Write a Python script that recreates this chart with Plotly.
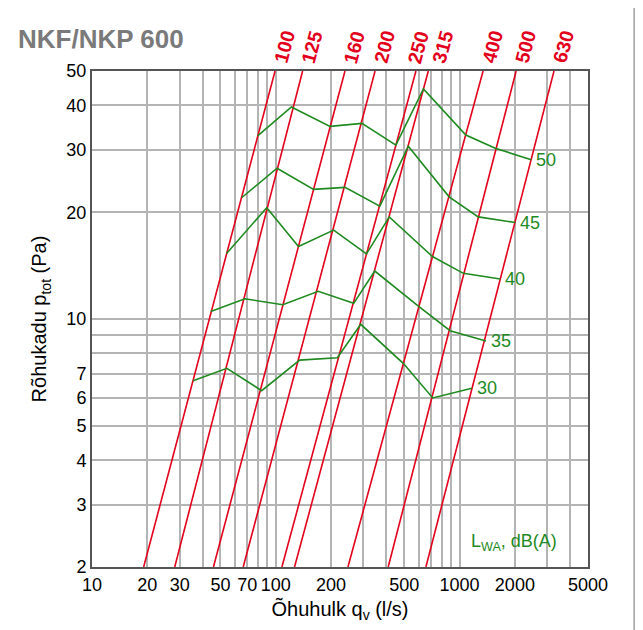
import math
import plotly.graph_objects as go

# ---------------- data ----------------
damper_sizes = ["100", "125", "160", "200", "250", "315", "400", "500", "630"]
q_at_50pa = [99.1, 140, 238, 347, 579, 676, 1343, 2032, 3266]   # l/s where each size line meets 50 Pa
q_at_2pa = [19.1, 28.2, 45.8, 66.5, 108, 126.5, 247, 409, 656]  # l/s where each size line meets 2 Pa
p_top, p_bottom = 50, 2

lw_levels = ["50", "45", "40", "35", "30"]
q_lw50 = [79.7, 121.7, 197.3, 294.3, 450.4, 635.9, 1082, 1565, 2453]
p_lw50 = [32.8, 39.6, 34.9, 35.6, 30.9, 44.5, 33.0, 30.3, 28.1]
q_lw45 = [65.4, 101.6, 160.6, 238.2, 368.3, 526.3, 877.5, 1264, 2013]
p_lw45 = [22.0, 26.6, 23.2, 23.5, 20.8, 30.7, 22.1, 19.4, 18.7]
q_lw40 = [54.0, 89.3, 132.9, 206.5, 311.5, 414.5, 712, 1049, 1667]
p_lw40 = [15.3, 20.6, 16.0, 17.8, 15.25, 19.4, 15.0, 13.45, 12.97]
q_lw35 = [44.3, 67.9, 109.2, 170.2, 265.5, 345.7, 601.5, 888.5, 1392]
p_lw35 = [10.5, 11.4, 10.97, 11.97, 11.07, 13.65, 10.83, 9.27, 8.67]
q_lw30 = [35.5, 54.2, 83.8, 134.9, 216.3, 290, 494, 714.8, 1167]
p_lw30 = [6.70, 7.26, 6.28, 7.66, 7.78, 9.66, 7.50, 5.99, 6.38]

x_tick_vals = [10, 20, 30, 50, 70, 100, 200, 500, 1000, 2000, 5000]
x_tick_text = ["10", "20", "30", "50", "70", "100", "200", "500", "1000", "2000", "5000"]
x_grid_vals = [10, 20, 30, 40, 50, 60, 70, 80, 90, 100, 200, 300, 400, 500, 600, 700, 800, 900,
               1000, 2000, 3000, 4000, 5000]
y_tick_vals = [2, 3, 4, 5, 6, 7, 10, 20, 30, 40, 50]
y_tick_text = ["2", "3", "4", "5", "6", "7", "10", "20", "30", "40", "50"]
y_grid_vals = [2, 3, 4, 5, 6, 7, 8, 9, 10, 20, 30, 40, 50]

# ---------------- style ----------------
RED = "#e3001b"
GREEN = "#1f8a1f"
GRID = "#b4b4b4"
FONT = "Liberation Sans, Arial, sans-serif"

fig = go.Figure()

for name, qt, qb in zip(damper_sizes, q_at_50pa, q_at_2pa):
    fig.add_trace(go.Scatter(x=[qb, qt], y=[p_bottom, p_top], mode="lines",
                             line=dict(color=RED, width=1.6), name=name,
                             showlegend=False, hoverinfo="skip"))

contours = [(q_lw50, p_lw50), (q_lw45, p_lw45), (q_lw40, p_lw40), (q_lw35, p_lw35), (q_lw30, p_lw30)]
for lvl, (qs, ps) in zip(lw_levels, contours):
    fig.add_trace(go.Scatter(x=qs, y=ps, mode="lines", line=dict(color=GREEN, width=1.6),
                             name=lvl + " dB(A)", showlegend=False))
    # annotations on log axes take log10 positions
    fig.add_annotation(x=math.log10(qs[-1]), y=math.log10(ps[-1]), xref="x", yref="y",
                       text=lvl, showarrow=False, xanchor="left", yanchor="middle", xshift=3,
                       font=dict(family=FONT, size=18, color=GREEN))

label_xshift = {"250": 2, "315": 14}
for name, qt in zip(damper_sizes, q_at_50pa):
    fig.add_annotation(x=math.log10(qt), y=1.0, xref="x", yref="paper", text="<b>" + name + "</b>",
                       showarrow=False, textangle=-75, xanchor="center", yanchor="bottom",
                       xshift=label_xshift.get(name, 9), yshift=3,
                       font=dict(family=FONT, size=19.5, color=RED))

fig.add_annotation(x=0.851, y=0.05, xref="paper", yref="paper",
                   text="L<sub>WA</sub>, dB(A)", showarrow=False, xanchor="center", yanchor="middle",
                   font=dict(family=FONT, size=18, color=GREEN))

fig.add_annotation(x=-0.153, y=1.0645, xref="paper", yref="paper", text="<b>NKF/NKP 600</b>",
                   showarrow=False, xanchor="left", yanchor="middle",
                   font=dict(family=FONT, size=26, color="#7a7a7a"))

# outer frame
frame = dict(color="#a0a0a0", width=1.5)
fig.add_shape(type="line", xref="paper", yref="paper", x0=-0.171, x1=-0.171, y0=-0.2, y1=1.131, line=frame)
fig.add_shape(type="line", xref="paper", yref="paper", x0=-0.171, x1=1.093, y0=1.131, y1=1.131, line=frame)
fig.add_shape(type="line", xref="paper", yref="paper", x0=1.093, x1=1.093, y0=-0.2, y1=1.131, line=frame)

axis_common = dict(type="log", showline=True, mirror=True, linecolor="#555555", linewidth=2,
                   ticks="", showgrid=False, zeroline=False,
                   tickfont=dict(family=FONT, size=18, color="black"))

fig.update_xaxes(**axis_common, range=[1, 3.69897], tickmode="array",
                 tickvals=x_tick_vals, ticktext=x_tick_text,
                 minor=dict(tickmode="array", tickvals=x_grid_vals, showgrid=True,
                            gridcolor=GRID, gridwidth=1.5, ticks=""),
                 title=dict(text="Õhuhulk q<sub>v</sub> (l/s)", standoff=8,
                            font=dict(family=FONT, size=20, color="black")))
fig.update_yaxes(**axis_common, range=[0.30103, 1.69897], tickmode="array",
                 tickvals=y_tick_vals, ticktext=y_tick_text,
                 minor=dict(tickmode="array", tickvals=y_grid_vals, showgrid=True,
                            gridcolor=GRID, gridwidth=1.5, ticks=""),
                 title=dict(text="Rõhukadu p<sub>tot</sub> (Pa)", standoff=14,
                            font=dict(family=FONT, size=20, color="black")))

fig.update_layout(width=643, height=630, margin=dict(l=84, r=63, t=63, b=71),
                  plot_bgcolor="white", paper_bgcolor="white",
                  font=dict(family=FONT), showlegend=False)

fig.write_html("out.html")
